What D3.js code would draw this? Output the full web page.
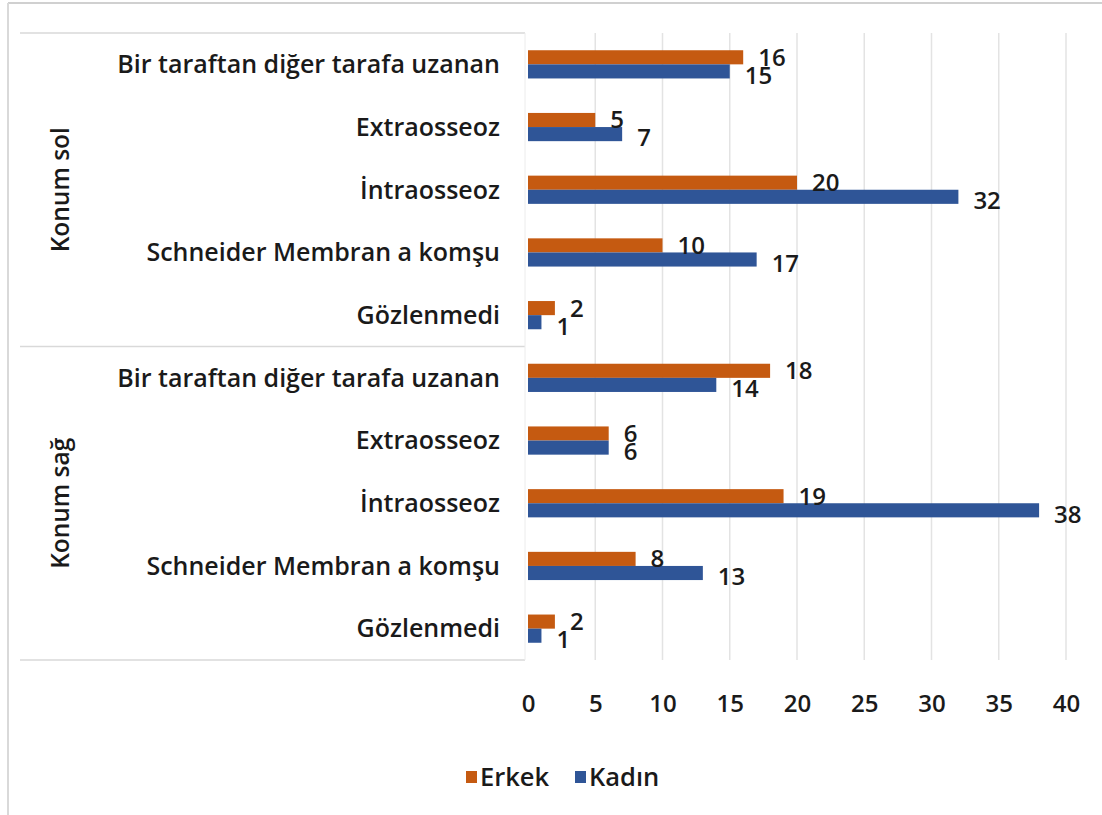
<!DOCTYPE html>
<html>
<head>
<meta charset="utf-8">
<script src="https://cdn.jsdelivr.net/npm/d3@7"></script>
<style>
  body { margin: 0; background: #fff; }
  svg text { font-family: "Open Sans", sans-serif; font-weight: 600; fill: #1a1a1a; }
</style>
</head>
<body>
<svg></svg>
<script>
// data
const groups = ["Konum sol", "Konum sağ"];
const categories = ["Bir taraftan diğer tarafa uzanan", "Extraosseoz", "İntraosseoz", "Schneider Membran a komşu", "Gözlenmedi"];
const series = ["Erkek", "Kadın"];
const erkekSol = [16, 5, 20, 10, 2];
const kadinSol = [15, 7, 32, 17, 1];
const erkekSag = [18, 6, 19, 8, 2];
const kadinSag = [14, 6, 38, 13, 1];
const xTicks = [0, 5, 10, 15, 20, 25, 30, 35, 40];
const colors = { "Erkek": "#C55A11", "Kadın": "#2F5597" };

const width = 1102, height = 815;
const svg = d3.select("svg").attr("width", width).attr("height", height);

const rows = [];
groups.forEach((g, gi) => {
  const e = gi === 0 ? erkekSol : erkekSag;
  const k = gi === 0 ? kadinSol : kadinSag;
  categories.forEach((c, ci) => {
    rows.push({ key: g + "|" + c, group: g, cat: c, values: { "Erkek": e[ci], "Kadın": k[ci] } });
  });
});

const plotLeft = 528, plotRight = 1066, plotTop = 33, plotBottom = 660;
const labelLeft = 20;

const x = d3.scaleLinear().domain([0, 40]).range([plotLeft, plotRight]);
const y = d3.scaleBand().domain(rows.map(d => d.key)).range([plotTop, plotBottom]).paddingInner(0.55).paddingOuter(0.275);
const ys = d3.scaleBand().domain(series).range([0, y.bandwidth()]);

// page frame
svg.append("line").attr("x1", 8).attr("x2", width).attr("y1", 3).attr("y2", 3).attr("stroke", "#d0d0d0").attr("stroke-width", 2);
svg.append("line").attr("x1", 8).attr("x2", 8).attr("y1", 3).attr("y2", height).attr("stroke", "#d9d9d9").attr("stroke-width", 2);

// gridlines
svg.append("g")
  .selectAll("line")
  .data(xTicks.slice(1))
  .join("line")
  .attr("x1", d => x(d)).attr("x2", d => x(d))
  .attr("y1", plotTop).attr("y2", plotBottom)
  .attr("stroke", "#e3e3e3").attr("stroke-width", 1.5);

// category table lines
const sepY = [plotTop, (plotTop + plotBottom) / 2, plotBottom];
svg.append("g")
  .selectAll("line")
  .data(sepY)
  .join("line")
  .attr("x1", labelLeft).attr("x2", plotLeft - 3)
  .attr("y1", d => d).attr("y2", d => d)
  .attr("stroke", "#d9d9d9").attr("stroke-width", 1.5);
svg.append("line")
  .attr("x1", plotLeft - 3).attr("x2", plotLeft - 3)
  .attr("y1", plotTop).attr("y2", plotBottom)
  .attr("stroke", "#ececec").attr("stroke-width", 1);

// bars
const rowG = svg.append("g")
  .selectAll("g")
  .data(rows)
  .join("g")
  .attr("transform", d => `translate(0,${y(d.key)})`);

rowG.selectAll("rect")
  .data(d => series.map(s => ({ s, v: d.values[s] })))
  .join("rect")
  .attr("x", x(0))
  .attr("y", d => ys(d.s))
  .attr("width", d => x(d.v) - x(0))
  .attr("height", ys.bandwidth())
  .attr("fill", d => colors[d.s]);

// value labels
rowG.selectAll("text.val")
  .data(d => series.map(s => ({ s, v: d.values[s] })))
  .join("text")
  .attr("class", "val")
  .attr("x", d => x(d.v) + 15)
  .attr("y", d => ys(d.s) + ys.bandwidth() / 2 + (d.s === "Erkek" ? 0 : 4))
  .attr("dy", "0.35em")
  .attr("font-size", 24)
  .text(d => d.v);

// category labels
rowG.append("text")
  .attr("x", plotLeft - 28)
  .attr("y", y.bandwidth() / 2)
  .attr("dy", "0.35em")
  .attr("text-anchor", "end")
  .attr("font-size", 25)
  .text(d => d.cat);

// group labels
groups.forEach((g, gi) => {
  const keys = rows.filter(r => r.group === g).map(r => r.key);
  const cy = (y(keys[0]) - y.step() * y.paddingInner() / 2 + y(keys[keys.length - 1]) + y.bandwidth() + y.step() * y.paddingInner() / 2) / 2;
  svg.append("text")
    .attr("transform", `translate(60,${cy}) rotate(-90)`)
    .attr("text-anchor", "middle")
    .attr("dy", "0.35em")
    .attr("font-size", 24.5)
    .text(g);
});

// x axis
const xAxis = svg.append("g")
  .attr("transform", `translate(0,${plotBottom + 35})`)
  .call(d3.axisBottom(x).tickValues(xTicks).tickSize(0).tickPadding(0));
xAxis.select(".domain").remove();
xAxis.selectAll("text").attr("font-size", 24).attr("font-family", "\"Open Sans\", sans-serif").attr("fill", "#1a1a1a");

// legend
const legend = svg.append("g").attr("transform", "translate(466,777)");
const legX = [0, 109];
series.forEach((s, i) => {
  const lg = legend.append("g").attr("transform", `translate(${legX[i]},0)`);
  lg.append("rect").attr("x", 0).attr("y", -6).attr("width", 11).attr("height", 12).attr("fill", colors[s]);
  lg.append("text").attr("x", 14).attr("dy", "0.35em").attr("font-size", 25.5).text(s);
});
</script>
</body>
</html>
